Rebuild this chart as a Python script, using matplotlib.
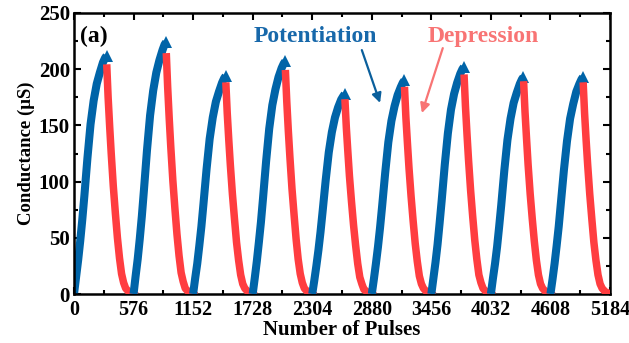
import matplotlib
matplotlib.use("Agg")
import matplotlib.pyplot as plt
from matplotlib.ticker import MultipleLocator, AutoMinorLocator

plt.rcParams['font.family'] = ['Liberation Serif', 'DejaVu Serif']
plt.rcParams['font.weight'] = 'bold'

# pulses per cycle (0, 576, 1152 ...)
cycle_len = 576

# potentiation: pulse number inside a cycle and conductance (uS) for each cycle
pot_pulses = [0, 20, 40, 60, 80, 100, 130, 160, 190, 220, 250, 280, 300, 315]
pot_values = [
    [0, 15, 30, 47, 66, 87, 121, 151, 172, 187, 197, 206, 210, 212],
    [0, 16, 31, 49, 69, 92, 128, 159, 181, 197, 208, 217, 222, 224],
    [0, 14, 27, 43, 60, 80, 111, 138, 157, 171, 180, 188, 192, 194],
    [0, 14, 29, 46, 64, 85, 118, 147, 168, 182, 193, 201, 205, 207],
    [0, 12, 25, 39, 55, 73, 101, 126, 144, 157, 166, 173, 176, 178],
    [0, 13, 27, 42, 59, 78, 108, 135, 154, 167, 177, 184, 188, 190],
    [0, 14, 28, 44, 63, 83, 115, 143, 164, 178, 188, 196, 200, 202],
    [0, 14, 27, 42, 60, 79, 110, 137, 156, 170, 179, 187, 191, 193],
    [0, 13, 27, 43, 60, 80, 110, 136, 156, 169, 180, 187, 191, 193],
]

# depression
dep_pulses = [318, 330, 345, 360, 380, 400, 420, 440, 460, 480, 500, 530, 576]
dep_values = [
    [201, 175, 149, 125, 96, 72, 50, 32, 18, 10, 5, 2, 0],
    [211, 184, 156, 131, 101, 76, 53, 34, 19, 11, 5, 2, 0],
    [185, 161, 137, 115, 89, 67, 46, 30, 17, 9, 5, 2, 0],
    [196, 171, 145, 122, 94, 71, 49, 31, 18, 10, 5, 2, 0],
    [170, 148, 126, 105, 82, 61, 43, 27, 15, 9, 4, 2, 0],
    [181, 157, 134, 112, 87, 65, 45, 29, 16, 9, 5, 2, 0],
    [192, 167, 142, 119, 92, 69, 48, 31, 17, 10, 5, 2, 0],
    [186, 162, 138, 115, 89, 67, 47, 30, 17, 9, 5, 2, 0],
    [185, 161, 137, 115, 89, 67, 46, 30, 17, 9, 5, 2, 0],
]

xticks = [0, 576, 1152, 1728, 2304, 2880, 3456, 4032, 4608, 5184]

blue = '#0064a8'
red = '#ff3d40'

fig = plt.figure(figsize=(6.29, 3.43), dpi=100)
ax = fig.add_axes([74/629, 1-294/343, 536/629, 281/343])

for k in range(len(pot_values)):
    start = k * cycle_len
    # triangle marker only on the peak, the rest is a thick band
    ax.plot([start + p for p in pot_pulses], pot_values[k], color=blue, lw=5.8,
            marker='^', ms=8, mew=0, markevery=[len(pot_pulses) - 1],
            solid_capstyle='butt', zorder=2 + 2*k)
    ax.plot([start + p for p in dep_pulses], dep_values[k], color=red, lw=5.4,
            solid_capstyle='projecting', zorder=3 + 2*k)

ax.set_xlim(0, 5184)
ax.set_ylim(0, 250)
ax.set_xticks(xticks)
ax.xaxis.set_minor_locator(AutoMinorLocator(2))
ax.yaxis.set_major_locator(MultipleLocator(50))
ax.yaxis.set_minor_locator(MultipleLocator(25))
ax.tick_params(which='both', direction='in', top=True, right=True, width=1.5)
ax.tick_params(which='major', length=5)
ax.tick_params(axis='x', pad=4, labelsize=14.5)
ax.tick_params(axis='y', pad=3, labelsize=15)
ax.tick_params(which='minor', length=3)
for s in ax.spines.values():
    s.set_linewidth(1.8)
for lab in ax.get_xticklabels() + ax.get_yticklabels():
    lab.set_fontweight('bold')

ax.set_xlabel('Number of Pulses', fontsize=15, fontweight='bold', labelpad=0)
ax.set_ylabel('Conductance (μS)', fontsize=13.5, fontweight='bold', labelpad=3)

ax.text(0.012, 0.915, '(a)', transform=ax.transAxes, fontsize=17, fontweight='bold',
        va='center', ha='left')
ax.text(0.451, 0.915, 'Potentiation', transform=ax.transAxes, fontsize=17,
        fontweight='bold', color='#1768aa', va='center', ha='center')
ax.text(0.763, 0.915, 'Depression', transform=ax.transAxes, fontsize=17,
        fontweight='bold', color='#f87474', va='center', ha='center')

ax.annotate('', xy=(0.571, 0.680), xytext=(0.537, 0.868), xycoords='axes fraction',
            arrowprops=dict(arrowstyle='-|>', color='#0a5f9c', lw=1.6, mutation_scale=14,
                            shrinkA=0, shrinkB=0))
ax.annotate('', xy=(0.649, 0.644), xytext=(0.688, 0.875), xycoords='axes fraction',
            arrowprops=dict(arrowstyle='-|>', color='#f87474', lw=1.6, mutation_scale=14,
                            shrinkA=0, shrinkB=0))

fig.savefig('out.png', dpi=100)
